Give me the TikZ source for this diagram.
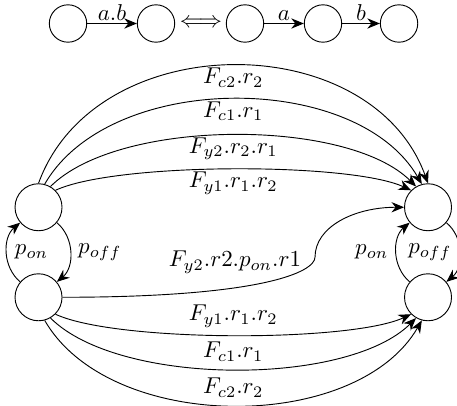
\documentclass[tikz,border=0pt]{standalone}
\usetikzlibrary{arrows.meta}

\tikzset{
  state/.style={draw,circle,inner sep=0pt,minimum size=0.72cm},
  small state/.style={draw,circle,inner sep=0pt,minimum size=0.573cm},
  tight/.style={inner sep=1pt},
}

\begin{document}
\begin{tikzpicture}[>={Stealth[length=5.5pt,width=4.5pt]}]
\useasboundingbox (0,0) rectangle (7.001,6.205);

% first line: one step a.b is the same as a then b
\def\ytop{5.845}
\foreach \n/\x in {a1/1.042,a2/2.390,a3/3.753,a4/4.948,a5/6.113} {
    \node[small state] (\n) at (\x,\ytop) {};
}
\node (iff) at (3.079,\ytop) {$\Longleftrightarrow$};
\draw[->] (a1) -- node[above,tight] {$a.b$} (a2);
\draw[->] (a3) -- node[above,tight] {$a$} (a4);
\draw[->] (a4) -- node[above,tight] {$b$} (a5);

% the four states
\def\yup{3.030}
\def\ydown{1.651}
\node[state] (l1) at (0.590,\yup) {};
\node[state] (l2) at (0.590,\ydown) {};
\node[state] (r1) at (6.557,\yup) {};
\node[state] (r2) at (6.557,\ydown) {};

% on/off switching
\draw[->] (l2) to[bend left=50] node[right] {$p_{on}$} (l1);
\draw[->] (l1) to[bend left=50] node[right] {$p_{off}$} (l2);
\draw[->] (r2) to[bend left=50] node[left] {$p_{on}$} (r1);
\draw[->] (r1) to[bend left=50] node[left] {$p_{off}$} (r2);

% upper arcs
\draw[->] (l1.90) to[out=70,in=110,looseness=1.1] node[below,tight] {$F_{c2}.r_2$} (r1.90);
\draw[->] (l1.75) to[out=60,in=120,looseness=0.89] node[below,tight] {$F_{c1}.r_1$} (r1.105);
\draw[->] (l1.60) to[out=45,in=135,looseness=0.68] node[below,tight] {$F_{y2}.r_2.r_1$} (r1.120);
\draw[->] (l1.45) to[out=25,in=155,looseness=0.48] node[below,tight] {$F_{y1}.r_1.r_2$} (r1.135);

% lower arcs
\draw[->] (l2.-45) to[out=-25,in=-155,looseness=0.48] node[above] {$F_{y1}.r_1.r_2$} (r2.-135);
\draw[->] (l2.-60) to[out=-45,in=-135,looseness=0.68] node[above] {$F_{c1}.r_1$} (r2.-120);
\draw[->] (l2.-75) to[out=-60,in=-120,looseness=0.89] node[above] {$F_{c2}.r_2$} (r2.-105);

% cross edge
\coordinate (sbend) at (4.826,2.267);
\draw[->] (l2.east) .. controls +(3.06,0) and +(0,-0.23) .. (sbend)
    .. controls +(0,0.46) and +(-0.77,0) .. (r1.west);
\node (cross) at (3.600,2.191) {$F_{y2}.r2.p_{on}.r1$};

\end{tikzpicture}
\end{document}
